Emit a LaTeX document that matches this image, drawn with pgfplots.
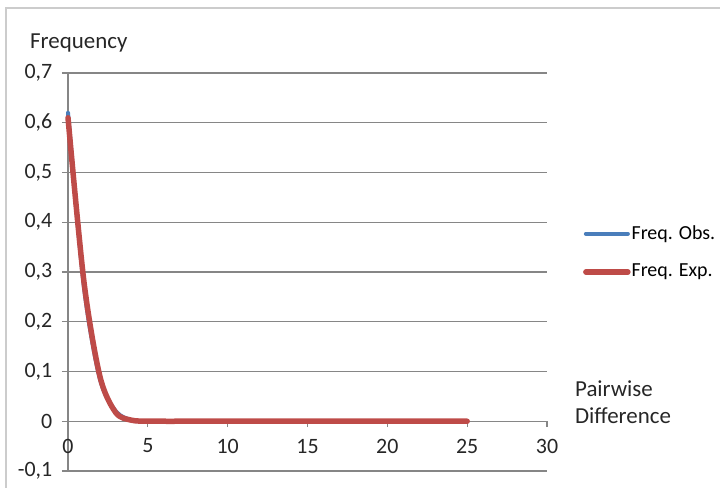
\documentclass[border=0pt]{standalone}
\usepackage{pgfplots}
\pgfplotsset{compat=1.18}
\usepackage{fontspec}
\setmainfont{Carlito}
\definecolor{obs}{HTML}{4A7EBB}
\definecolor{expc}{HTML}{BE4B48}
\definecolor{gridc}{HTML}{868686}
\begin{document}
\fontsize{19.5}{27}\selectfont
\begin{tikzpicture}[x=1bp,y=1bp]
\useasboundingbox (-68,-17) rectangle (652,471);
\draw[gray!40, line width=1.2bp] (-62,-30) -- (-62,463) -- (700,463);
\begin{axis}[
  at={(0,0)}, anchor=south west,
  scale only axis, width=479bp, height=398bp,
  xmin=0, xmax=30, ymin=-0.1, ymax=0.7,
  axis x line=middle, axis y line=left,
  axis line style={draw=gridc, line width=1.1bp, -},
  xtick={0,5,...,30},
  ytick={-0.1,0,0.1,0.2,0.3,0.4,0.5,0.6,0.7},
  yticklabels={{-0,1},0,{0,1},{0,2},{0,3},{0,4},{0,5},{0,6},{0,7}},
  tick align=outside, major tick length=6bp,
  tick style={draw=gridc, line width=1.1bp},
  ymajorgrids, major grid style={draw=gridc, line width=1.1bp},
  /pgf/number format/assume math mode=true,
  hide obscured x ticks=false,
  every tick label/.append style={font=\fontsize{22}{26}\selectfont, text=black!85},
  yticklabel style={xshift=-3bp},
  xticklabel style={yshift=-5bp},
  clip=false,
  legend style={at={(axis cs:32.25,0.339)}, anchor=west, draw=none, fill=none,
    row sep=20bp, inner sep=0pt, nodes={inner sep=1bp}, font=\fontsize{20}{24}\selectfont},
  legend cell align=left,
  legend image code/.code={\draw[#1] (0,0) -- (42bp,0);},
]
\addplot[obs, line width=4bp, smooth, line cap=round] coordinates {
(0,0.62)(1,0.27)(2,0.085)(3,0.02)(4,0.002)(5,0)(6,0)(7,0)(8,0)(9,0)(10,0)(11,0)(12,0)(13,0)(14,0)(15,0)(16,0)(17,0)(18,0)(19,0)(20,0)(21,0)(22,0)(23,0)(24,0)(25,0)};
\addlegendentry{Freq. Obs.}
\addplot[expc, line width=5.5bp, smooth, line cap=round] coordinates {
(0,0.61)(1,0.28)(2,0.09)(3,0.017)(4,0.002)(5,0.0002)(6,0)(7,0)(8,0)(9,0)(10,0)(11,0)(12,0)(13,0)(14,0)(15,0)(16,0)(17,0)(18,0)(19,0)(20,0)(21,0)(22,0)(23,0)(24,0)(25,0)};
\addlegendentry{Freq. Exp.}
\node[anchor=west, inner sep=0pt, font=\fontsize{23}{27}\selectfont, text=black!85] at (axis cs:-2.38,0.76) {Frequency};
\node[anchor=west, align=left, inner sep=0pt, font=\fontsize{23}{27}\selectfont, text=black!85] at (axis cs:31.75,0.039) {Pairwise\\Difference};
\end{axis}
\end{tikzpicture}
\end{document}
